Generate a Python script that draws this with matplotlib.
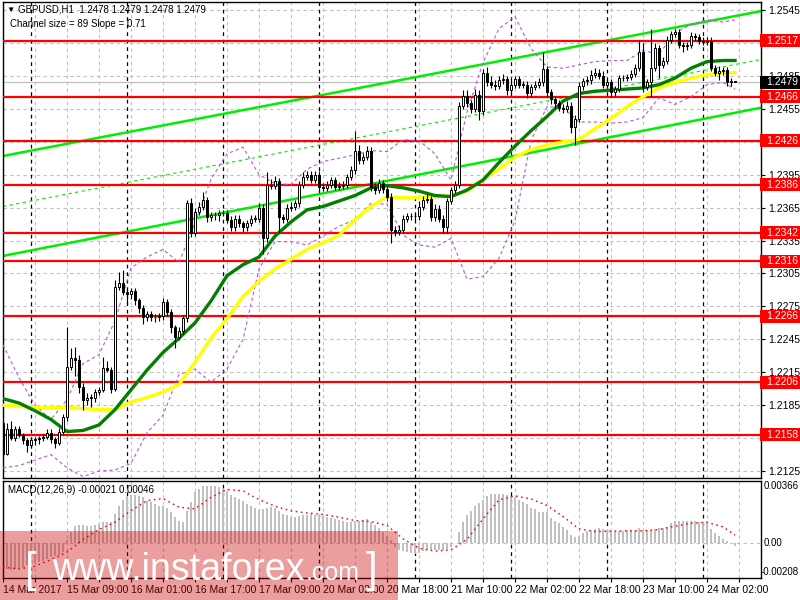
import matplotlib
matplotlib.use("Agg")
import matplotlib.pyplot as plt
from matplotlib.patches import Rectangle
import numpy as np

plt.rcParams['font.family'] = ['Liberation Sans', 'DejaVu Sans']

# ── data (GBPUSD H1, one value per bar) ──────────────────────────────────────
FIRST_OPEN = 1.2169
CLOSE = [
    1.2141, 1.2163, 1.2155, 1.2163, 1.2158, 1.2153, 1.2149, 1.2153, 1.2154, 1.2155,
    1.2156, 1.2160, 1.2154, 1.2151, 1.2161, 1.2174, 1.2220, 1.2228, 1.2226, 1.2202,
    1.2190, 1.2192, 1.2192, 1.2197, 1.2199, 1.2219, 1.2217, 1.2200, 1.2293, 1.2296,
    1.2288, 1.2286, 1.2289, 1.2281, 1.2274, 1.2265, 1.2268, 1.2265, 1.2265, 1.2266,
    1.2279, 1.2270, 1.2256, 1.2247, 1.2253, 1.2264, 1.2369, 1.2342, 1.2361, 1.2366,
    1.2372, 1.2356, 1.2358, 1.2358, 1.2360, 1.2360, 1.2354, 1.2347, 1.2355, 1.2351,
    1.2347, 1.2351, 1.2355, 1.2355, 1.2365, 1.2337, 1.2386, 1.2385, 1.2389, 1.2356,
    1.2355, 1.2365, 1.2366, 1.2369, 1.2386, 1.2393, 1.2395, 1.2390, 1.2395, 1.2384,
    1.2383, 1.2386, 1.2390, 1.2384, 1.2385, 1.2386, 1.2393, 1.2399, 1.2417, 1.2408,
    1.2411, 1.2417, 1.2384, 1.2381, 1.2387, 1.2382, 1.2375, 1.2345, 1.2343, 1.2345,
    1.2355, 1.2357, 1.2357, 1.2357, 1.2366, 1.2372, 1.2373, 1.2356, 1.2364, 1.2355,
    1.2347, 1.2371, 1.2381, 1.2386, 1.2458, 1.2467, 1.2460, 1.2455, 1.2468, 1.2453,
    1.2488, 1.2479, 1.2477, 1.2476, 1.2481, 1.2482, 1.2472, 1.2477, 1.2482, 1.2477,
    1.2477, 1.2469, 1.2475, 1.2477, 1.2479, 1.2491, 1.2470, 1.2464, 1.2460, 1.2456,
    1.2455, 1.2458, 1.2438, 1.2446, 1.2476, 1.2480, 1.2481, 1.2486, 1.2488, 1.2485,
    1.2477, 1.2479, 1.2470, 1.2473, 1.2483, 1.2483, 1.2484, 1.2487, 1.2492, 1.2507,
    1.2475, 1.2479, 1.2492, 1.2510, 1.2495, 1.2499, 1.2518, 1.2523, 1.2525, 1.2513,
    1.2512, 1.2513, 1.2521, 1.2520, 1.2517, 1.2516, 1.2517, 1.2492, 1.2488, 1.2489,
    1.2490, 1.2479, 1.2480, 1.2479,
]
# wick lengths above / below the body, in pips
UP_WICK = [
    1, 6, 8, 3, 3, 2, 2, 3, 2, 2,   3, 3, 3, 2, 3, 3, 36, 9, 10, 5,
    3, 4, 3, 3, 3, 10, 6, 3, 6, 10,  12, 3, 3, 3, 2, 2, 3, 3, 3, 3,
    4, 3, 3, 2, 3, 3, 3, 5, 4, 4,   7, 3, 3, 3, 3, 3, 3, 3, 3, 3,
    2, 3, 3, 3, 4, 3, 11, 5, 5, 3,  3, 3, 4, 3, 3, 4, 3, 3, 3, 3,
    3, 3, 3, 3, 3, 3, 3, 4, 18, 5,  4, 4, 3, 3, 4, 3, 3, 3, 3, 4,
    3, 3, 3, 3, 5, 4, 5, 3, 4, 3,   3, 3, 3, 3, 3, 5, 5, 3, 5, 4,
    3, 5, 6, 4, 4, 5, 3, 4, 3, 3,   3, 3, 3, 3, 4, 16, 3, 3, 3, 3,
    3, 4, 3, 3, 3, 3, 4, 4, 4, 3,   4, 3, 3, 3, 3, 3, 3, 3, 4, 11,
    8, 3, 36, 5, 3, 3, 3, 3, 3, 3,  3, 3, 4, 3, 3, 3, 3, 3, 3, 5,
    3, 3, 3, 0,
]
DN_WICK = [
    2, 1, 2, 3, 2, 3, 7, 3, 4, 4,   3, 2, 3, 5, 2, 2, 3, 3, 14, 6,
    9, 5, 9, 4, 3, 2, 2, 4, 2, 3,   3, 9, 4, 5, 5, 6, 3, 3, 4, 3,
    3, 4, 5, 10, 3, 3, 3, 4, 3, 3,  3, 4, 3, 4, 5, 3, 3, 3, 3, 4,
    4, 3, 3, 3, 3, 14, 3, 3, 3, 14, 4, 3, 3, 3, 3, 3, 3, 3, 3, 4,
    3, 3, 3, 3, 3, 3, 3, 3, 3, 3,   3, 3, 4, 4, 3, 4, 4, 12, 4, 3,
    3, 3, 3, 3, 3, 3, 3, 3, 3, 3,   5, 5, 3, 3, 3, 3, 3, 4, 3, 8,
    4, 3, 3, 4, 3, 3, 4, 3, 3, 3,   3, 4, 3, 3, 3, 3, 4, 5, 4, 3,
    4, 3, 5, 16, 3, 4, 3, 3, 3, 3,  3, 3, 4, 3, 3, 3, 3, 3, 3, 3,
    5, 3, 13, 3, 12, 3, 3, 3, 3, 3, 5, 3, 3, 3, 3, 3, 3, 3, 3, 7,
    3, 3, 3, 0,
]

# indicator lines, read every 4th bar
MA_X = list(range(0, 181, 4)) + [183]
MA_GREEN = [
    1.2191, 1.2187, 1.2180, 1.2172, 1.2161, 1.2162, 1.2167, 1.2181, 1.2199, 1.2217,
    1.2233, 1.2246, 1.2260, 1.2280, 1.2303, 1.2313, 1.2320, 1.2339, 1.2352, 1.2363,
    1.2366, 1.2371, 1.2376, 1.2383, 1.2385, 1.2383, 1.2380, 1.2376, 1.2375, 1.2381,
    1.2390, 1.2406, 1.2421, 1.2435, 1.2448, 1.2462, 1.2469, 1.2471, 1.2472, 1.2473,
    1.2474, 1.2477, 1.2483, 1.2492, 1.2498, 1.2499, 1.2499,
]
MA_YELLOW = [
    1.2185, 1.2184, 1.2183, 1.2183, 1.2183, 1.2182, 1.2181, 1.2181, 1.2188, 1.2192,
    1.2197, 1.2204, 1.2224, 1.2246, 1.2264, 1.2284, 1.2298, 1.2309, 1.2318, 1.2327,
    1.2333, 1.2340, 1.2354, 1.2366, 1.2375, 1.2374, 1.2374, 1.2375, 1.2376, 1.2380,
    1.2391, 1.2400, 1.2411, 1.2418, 1.2422, 1.2425, 1.2427, 1.2437, 1.2446, 1.2457,
    1.2466, 1.2474, 1.2479, 1.2483, 1.2486, 1.2488, 1.2488,
]
BB_UPPER = [
    1.2240, 1.2210, 1.2185, 1.2172, 1.2190, 1.2223, 1.2231, 1.2262, 1.2310, 1.2320,
    1.2327, 1.2315, 1.2351, 1.2391, 1.2414, 1.2420, 1.2395, 1.2387, 1.2386, 1.2400,
    1.2407, 1.2410, 1.2413, 1.2417, 1.2416, 1.2427, 1.2426, 1.2414, 1.2390, 1.2452,
    1.2497, 1.2528, 1.2539, 1.2510, 1.2493, 1.2492, 1.2495, 1.2498, 1.2499, 1.2499,
    1.2508, 1.2505, 1.2524, 1.2532, 1.2536, 1.2534, 1.2536,
]
BB_LOWER = [
    1.2128, 1.2130, 1.2135, 1.2140, 1.2128, 1.2120, 1.2125, 1.2126, 1.2132, 1.2160,
    1.2176, 1.2213, 1.2218, 1.2206, 1.2218, 1.2245, 1.2309, 1.2334, 1.2334, 1.2331,
    1.2339, 1.2348, 1.2354, 1.2369, 1.2368, 1.2340, 1.2331, 1.2329, 1.2337, 1.2300,
    1.2302, 1.2319, 1.2353, 1.2426, 1.2457, 1.2456, 1.2443, 1.2443, 1.2442, 1.2443,
    1.2447, 1.2465, 1.2459, 1.2466, 1.2477, 1.2479, 1.2473,
]

# regression channel end points
CHANNEL_X = [0, 189.5]
CHANNEL_UP = [1.2412, 1.2544]
CHANNEL_MID = [1.2366, 1.2500]
CHANNEL_LOW = [1.2321, 1.2456]

LEVELS = [1.2517, 1.2466, 1.2426, 1.2386, 1.2342, 1.2316, 1.2266, 1.2206, 1.2158]
BID = 1.2479
PRICE_TICKS = [1.2125, 1.2155, 1.2185, 1.2215, 1.2245, 1.2275, 1.2305, 1.2335,
               1.2365, 1.2395, 1.2425, 1.2455, 1.2485, 1.2515, 1.2545]

MACD_HIST = [
    -0.00154, -0.00154, -0.00158, -0.00154, -0.00150, -0.00144, -0.00134, -0.00128, -0.00120, -0.00114,
    -0.00105, -0.00095, -0.00085, -0.00079, -0.00071, -0.00055, 0.00014, 0.00063, 0.00099, 0.00103,
    0.00103, 0.00099, 0.00099, 0.00103, 0.00112, 0.00122, 0.00126, 0.00122, 0.00172, 0.00221,
    0.00256, 0.00276, 0.00284, 0.00284, 0.00280, 0.00270, 0.00250, 0.00241, 0.00231, 0.00217,
    0.00217, 0.00205, 0.00181, 0.00152, 0.00132, 0.00122, 0.00191, 0.00241, 0.00300, 0.00319,
    0.00335, 0.00339, 0.00339, 0.00339, 0.00329, 0.00316, 0.00300, 0.00284, 0.00270, 0.00260,
    0.00245, 0.00231, 0.00217, 0.00205, 0.00197, 0.00201, 0.00205, 0.00211, 0.00205, 0.00191,
    0.00172, 0.00162, 0.00152, 0.00152, 0.00156, 0.00162, 0.00166, 0.00172, 0.00166, 0.00162,
    0.00158, 0.00152, 0.00146, 0.00142, 0.00138, 0.00132, 0.00122, 0.00122, 0.00132, 0.00132,
    0.00138, 0.00142, 0.00122, 0.00103, 0.00087, 0.00063, 0.00043, 0.00014, -0.00026, -0.00045,
    -0.00051, -0.00055, -0.00059, -0.00065, -0.00059, -0.00051, -0.00045, -0.00045, -0.00045, -0.00045,
    -0.00045, -0.00039, -0.00026, 0.00000, 0.00063, 0.00122, 0.00162, 0.00191, 0.00221, 0.00237,
    0.00256, 0.00276, 0.00290, 0.00290, 0.00290, 0.00290, 0.00284, 0.00280, 0.00264, 0.00256,
    0.00241, 0.00231, 0.00205, 0.00201, 0.00185, 0.00185, 0.00181, 0.00146, 0.00132, 0.00118,
    0.00093, 0.00079, 0.00047, 0.00034, 0.00043, 0.00059, 0.00073, 0.00079, 0.00083, 0.00087,
    0.00083, 0.00077, 0.00073, 0.00073, 0.00073, 0.00073, 0.00075, 0.00077, 0.00079, 0.00087,
    0.00079, 0.00077, 0.00079, 0.00083, 0.00087, 0.00087, 0.00093, 0.00118, 0.00128, 0.00132,
    0.00132, 0.00132, 0.00130, 0.00128, 0.00126, 0.00122, 0.00122, 0.00083, 0.00059, 0.00039,
    0.00024, 0.00008, -0.00006, -0.00021,
]
MACD_SIGNAL = [
    -0.00144, -0.00154, -0.00138, -0.00099, -0.00055, 0.00020, 0.00079, 0.00122, 0.00191, 0.00250,
    0.00262, 0.00211, 0.00201, 0.00270, 0.00316, 0.00308, 0.00256, 0.00217, 0.00189, 0.00177,
    0.00168, 0.00152, 0.00132, 0.00126, 0.00103, 0.00024, -0.00032, -0.00049, -0.00041, 0.00020,
    0.00142, 0.00254, 0.00278, 0.00260, 0.00221, 0.00156, 0.00083, 0.00067, 0.00069, 0.00071,
    0.00071, 0.00079, 0.00099, 0.00116, 0.00122, 0.00095, 0.00046,
]
MACD_LIM = (-0.00208, 0.00366)

DAY_BREAKS = [7, 31, 55, 79, 103, 127, 151, 175]
TIME_LABELS = ["14 Mar 2017", "15 Mar 09:00", "16 Mar 01:00", "16 Mar 17:00",
               "17 Mar 09:00", "20 Mar 02:00", "20 Mar 18:00", "21 Mar 10:00",
               "22 Mar 02:00", "22 Mar 18:00", "23 Mar 10:00", "24 Mar 02:00"]

PIP = 0.0001
GRID = "#c0c0c0"
DASH = (0, (3, 3))

# ── figure ────────────────────────────────────────────────────────────────────
fig = plt.figure(figsize=(8, 6), dpi=100)
W, H = 800.0, 600.0
ax = fig.add_axes([3 / W, 1 - 478 / H, 758 / W, 476 / H])
axm = fig.add_axes([3 / W, 1 - 578 / H, 758 / W, 97 / H])

n = len(CLOSE)
idx = np.arange(n)
close = np.array(CLOSE)
open_ = np.r_[FIRST_OPEN, close[:-1]]
high = np.maximum(open_, close) + np.array(UP_WICK) * PIP
low = np.minimum(open_, close) - np.array(DN_WICK) * PIP

for a in (ax, axm):
    a.set_xlim(0, 189.5)
    a.set_xticks(range(0, 190, 8))
    a.grid(True, color=GRID, ls=DASH, lw=0.8, zorder=0)
    a.set_axisbelow(True)
    for d in DAY_BREAKS:
        a.axvline(d, color="black", ls=DASH, lw=0.9, zorder=1)
    for s in a.spines.values():
        s.set_color("black")
        s.set_linewidth(1.0)

ax.set_ylim(1.21187, 1.25523)
ax.set_yticks(PRICE_TICKS)
ax.yaxis.tick_right()
# labels sitting under a level box are not visible on the chart
boxed = LEVELS + [BID]
ax.set_yticklabels(["" if min(abs(t - b) for b in boxed) < 0.0004 and abs(t - BID) > 0.0004
                    else f"{t:.4f}" for t in PRICE_TICKS])
ax.tick_params(axis="y", length=3, pad=2, labelsize=7.5)
ax.tick_params(axis="x", length=0, labelbottom=False)

# bid line, channel, levels
ax.axhline(BID, color=GRID, lw=0.9, zorder=1)
ax.plot(CHANNEL_X, CHANNEL_UP, color="#00ee00", lw=1.8, zorder=2)
ax.plot(CHANNEL_X, CHANNEL_LOW, color="#00ee00", lw=1.8, zorder=2)
ax.plot(CHANNEL_X, CHANNEL_MID, color="#00ee00", lw=0.8, ls=(0, (3, 3)), zorder=2)
for lv in LEVELS:
    ax.axhline(lv, color="red", lw=1.6, zorder=3)

# bands and moving averages
ax.plot(MA_X, BB_UPPER, color="#b45ad8", lw=0.8, ls=(0, (3, 2.5)), zorder=3)
ax.plot(MA_X, BB_LOWER, color="#b45ad8", lw=0.8, ls=(0, (3, 2.5)), zorder=3)
ax.plot(MA_X, MA_YELLOW, color="#ffff00", lw=2.4, zorder=3.5)
ax.plot(MA_X, MA_GREEN, color="#007f00", lw=2.4, zorder=3.6)

# candles
ax.vlines(idx, low, high, color="black", lw=0.8, zorder=4)
body = np.maximum(np.abs(close - open_), 0.00003)
colors = ["white" if c >= o else "black" for o, c in zip(open_, close)]
ax.bar(idx, body, bottom=np.minimum(open_, close), width=0.62, color=colors,
       edgecolor="black", lw=0.7, zorder=5)

# MACD panel
axm.set_ylim(*MACD_LIM)
axm.set_yticks([0])
axm.tick_params(axis="y", length=0, labelleft=False, labelright=False)
axm.grid(False, axis="y")
axm.axhline(0, color=GRID, ls=DASH, lw=0.8, zorder=0)
axm.bar(idx, MACD_HIST, width=0.62, color="#c0c0c0", zorder=2)
axm.plot(MA_X, MACD_SIGNAL, color="red", lw=1.0, ls=(0, (1.2, 2.5)), zorder=3)
labels = []
for k in range(0, 190, 8):
    labels.append(TIME_LABELS[k // 16] if k % 16 == 0 and k // 16 < len(TIME_LABELS) else "")
axm.set_xticklabels(labels)
axm.tick_params(axis="x", length=3, pad=2, labelsize=7.5)
for t in axm.get_xticklabels():
    t.set_ha("left")

rt = axm.get_yaxis_transform()
axm.text(1.003, MACD_LIM[1] - 0.00002, "0.00366", transform=rt, fontsize=7, va="top", ha="left")
axm.text(1.003, 0, "0.00", transform=rt, fontsize=7, va="center", ha="left")
axm.text(0.999, MACD_LIM[0] + 0.00004, "-0.00208", transform=rt, fontsize=7, va="bottom", ha="left")

# right-side price boxes
def fig_y(p):
    return ax.transData.transform((0, p))[1] / fig.bbox.height

for lv in LEVELS:
    y = fig_y(lv)
    fig.patches.append(Rectangle((760 / W, y - 6.5 / H), 40 / W, 13 / H,
                                 transform=fig.transFigure, fc="red", ec="none", zorder=10))
    fig.text(766 / W, y, f"{lv:.4f}", color="white", fontsize=7.5, va="center", zorder=11)
y = fig_y(BID)
fig.patches.append(Rectangle((760 / W, y - 6.5 / H), 40 / W, 13 / H,
                             transform=fig.transFigure, fc="black", ec="none", zorder=10))
fig.text(766 / W, y, f"{BID:.4f}", color="white", fontsize=7.5, va="center", zorder=11)

# chart captions
fig.text(6 / W, 1 - 10 / H, "▼", fontsize=6, va="center")
fig.text(18 / W, 1 - 10 / H, "GBPUSD,H1  1.2478 1.2479 1.2478 1.2479", fontsize=7, va="center")
fig.text(10 / W, 1 - 24 / H, "Channel size = 89 Slope = 0.71", fontsize=7, va="center")
fig.text(8 / W, 1 - 490 / H, "MACD(12,26,9) -0.00021 0.00046", fontsize=7, va="center")

# watermark
fig.patches.append(Rectangle((0, 0), 398 / W, 69 / H, transform=fig.transFigure,
                             fc="#cc0000", alpha=0.38, ec="none", zorder=20))
fig.text(25 / W, 1 - 571 / H, "[", fontsize=30, color="white", va="center", zorder=21)
fig.text(52 / W, 1 - 580 / H, "www.instaforex", fontsize=27, color="white",
         va="baseline", zorder=21)
fig.text(306 / W, 1 - 580 / H, ".com", fontsize=18, color="white", va="baseline", zorder=21)
fig.text(366 / W, 1 - 571 / H, "]", fontsize=30, color="white", va="center", zorder=21)

fig.savefig("out.png", dpi=100)
